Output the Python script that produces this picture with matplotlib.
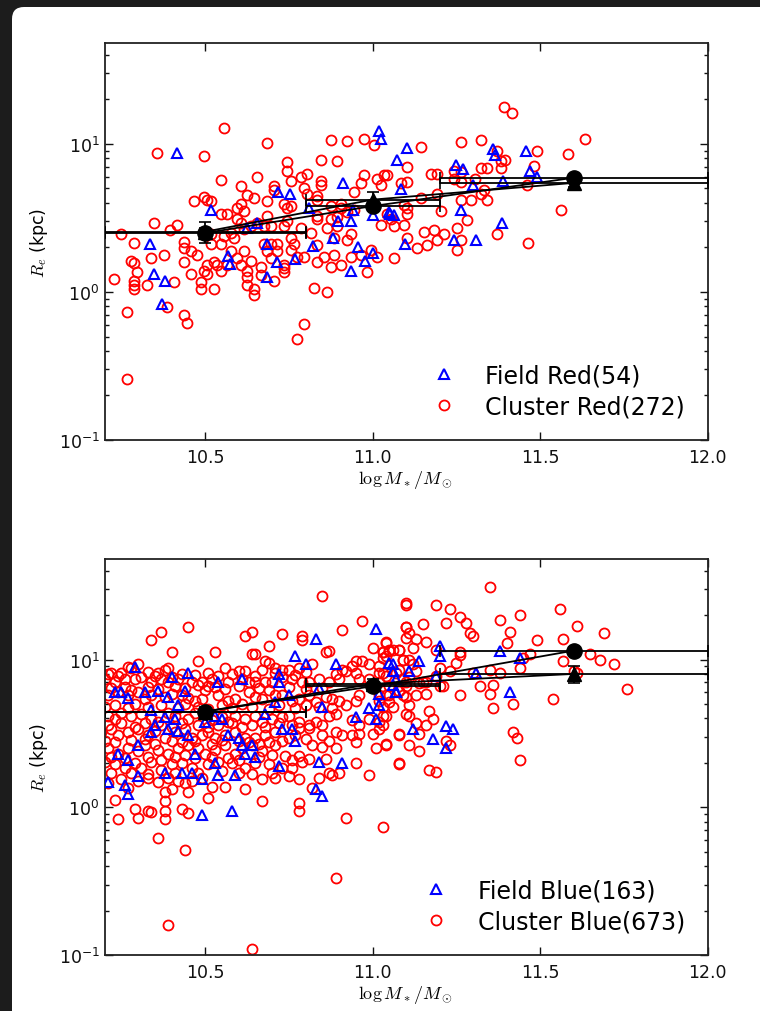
import matplotlib
matplotlib.use("Agg")
import matplotlib.pyplot as plt
from matplotlib.patches import FancyBboxPatch
from matplotlib.transforms import IdentityTransform
from matplotlib.ticker import FixedLocator, LogLocator, NullFormatter

plt.rcParams['mathtext.fontset'] = 'cm'
plt.rcParams['font.family'] = ['DejaVu Sans']

# ---------------- data: top panel (red galaxies) ----------------
cr_pts = [(10.556,12.8),(10.686,10.2),(10.357,8.7),(10.497,8.3),(10.875,10.6),(10.925,10.5),(10.975,10.8),(11.004,9.8),
(10.845,7.8),(10.895,7.7),(10.746,7.5),(10.746,6.6),(10.805,6.3),(10.786,6.0),(10.656,6.0),(10.547,5.7),(10.756,5.6),
(10.845,5.6),(10.845,5.3),(10.607,5.2),(10.706,5.2),(10.975,6.2),(11.014,5.8),(11.034,6.2),(11.044,6.2),(10.965,5.4),
(11.024,5.3),(11.084,5.4),(11.104,5.5),(10.706,4.9),(10.795,5.0),(10.805,4.6),(10.626,4.5),(10.646,4.3),(10.686,4.1),
(10.467,4.1),(10.497,4.4),(10.507,4.2),(10.517,4.1),(10.736,3.95),(10.756,3.8),(10.746,3.7),(10.607,3.95),(10.596,3.7),
(10.616,3.5),(10.547,3.35),(10.567,3.35),(10.686,3.25),(10.596,3.1),(10.835,4.45),(10.835,4.2),(10.875,3.8),(10.905,3.9),
(10.945,4.7),(10.905,3.7),(10.835,3.25),(10.835,3.1),(10.875,3.1),(10.895,2.8),(10.865,2.7),(10.786,2.7),(10.816,2.5),
(10.746,3.0),(10.736,2.8),(10.696,2.8),(10.676,2.8),(10.656,2.9),(10.636,2.8),(10.607,2.9),(10.616,2.65),(10.587,2.3),
(10.577,2.5),(10.557,2.4),(10.517,2.45),(10.417,2.85),(10.397,2.6),(10.348,2.9),(10.248,2.45),(10.288,2.15),(10.338,1.7),
(10.278,1.63),(10.288,1.57),(10.298,1.37),(10.228,1.23),(10.288,1.19),(10.288,1.11),(10.288,1.04),(10.328,1.11),
(10.378,1.77),(10.408,1.17),(10.438,2.18),(10.438,1.99),(10.438,1.6),(10.457,1.9),(10.457,1.32),(10.477,1.77),
(10.487,1.17),(10.487,1.04),(10.497,1.39),(10.507,1.52),(10.507,1.32),(10.517,2.12),(10.527,1.6),(10.527,1.04),
(10.537,1.53),(10.547,2.12),(10.547,1.38),(10.567,1.53),(10.577,1.9),(10.596,1.7),(10.607,1.53),(10.616,1.9),
(10.626,1.38),(10.626,1.26),(10.626,1.12),(10.636,1.63),(10.646,1.05),(10.646,0.96),(10.666,1.47),(10.666,1.3),
(10.676,2.12),(10.696,2.12),(10.696,1.7),(10.686,1.9),(10.706,1.18),(10.716,2.12),(10.716,1.9),(10.736,1.53),
(10.736,1.44),(10.736,1.37),(10.756,2.32),(10.756,1.93),(10.766,2.12),(10.776,1.72),(10.795,1.72),(10.825,1.06),
(10.835,2.07),(10.835,1.6),(10.855,1.72),(10.865,1.0),(10.875,1.47),(10.885,1.77),(10.885,2.3),(10.905,1.53),
(10.925,2.23),(10.935,2.45),(10.935,1.72),(10.965,1.77),(10.985,1.37),(10.995,1.93),(11.014,1.72),(11.024,2.85),
(11.064,1.7),(11.064,2.8),(11.094,2.85),(11.104,2.32),(11.044,3.35),(11.054,3.1),(11.094,3.87),(10.925,3.48),
(10.945,3.6),(10.895,3.2),(10.268,0.73),(10.387,0.79),(10.438,0.7),(10.447,0.62),(10.795,0.61),(10.776,0.48),
(10.268,0.26),(11.144,9.5),(11.263,10.3),(11.323,10.6),(11.373,9.0),(11.383,7.7),(11.396,7.8),(11.492,8.9),
(11.585,8.6),(11.634,10.8),(11.104,7.0),(11.174,6.3),(11.193,6.3),(11.243,6.6),(11.263,6.5),(11.323,6.9),(11.343,6.9),
(11.383,6.9),(11.482,7.1),(11.243,5.8),(11.263,5.5),(11.306,5.8),(11.462,5.3),(11.323,4.6),(11.333,4.9),(11.193,4.6),
(11.144,4.3),(11.263,4.2),(11.293,4.2),(11.343,4.2),(11.203,3.5),(11.104,3.7),(11.104,3.35),(11.283,3.06),(11.253,2.7),
(11.154,2.55),(11.184,2.6),(11.213,2.47),(11.193,2.23),(11.164,2.09),(11.134,1.97),(11.263,2.26),(11.253,1.93),
(11.373,2.47),(11.563,3.6),(11.463,2.13),(11.392,17.8),(11.415,16.1)]
cluster_red_mass = [p[0] for p in cr_pts]
cluster_red_re = [p[1] for p in cr_pts]

fr_pts = [(10.415,8.7),(10.517,3.6),(10.336,2.12),(10.348,1.32),(10.381,1.19),(10.371,0.83),(10.57,1.75),(10.575,1.55),
(10.624,2.7),(10.654,2.9),(10.684,2.12),(10.684,1.26),(10.714,1.6),(10.719,4.7),(10.754,4.6),(10.769,1.68),(10.811,3.7),
(10.823,2.04),(10.881,2.3),(10.898,3.0),(10.911,5.4),(10.935,3.0),(10.935,1.39),(10.943,3.6),(10.958,2.0),(10.978,1.63),
(11.0,3.3),(11.002,1.84),(11.02,12.2),(11.024,10.8),(11.052,3.35),(11.064,3.3),(11.072,7.8),(11.084,4.95),(11.097,2.12),
(11.102,9.4),(11.359,9.2),(11.366,8.4),(11.458,8.9),(11.249,7.2),(11.269,6.8),(11.47,6.6),(11.49,6.0),(11.301,5.3),
(11.39,5.6),(11.263,3.56),(11.386,2.9),(11.243,2.23),(11.309,2.23),(11.05,3.47)]
field_red_mass = [p[0] for p in fr_pts]
field_red_re = [p[1] for p in fr_pts]

# ---------------- data: bottom panel (blue galaxies) ----------------
cb_pts = [(10.85,26.9),(10.45,16.6),(10.37,15.5),(10.34,13.5),(10.40,11.2),(10.62,14.5),(10.64,15.5),(10.73,14.8),
(10.79,14.5),(10.79,13.5),(10.91,15.8),(10.97,18.2),(10.69,12.3),(10.64,11.0),(10.65,11.0),(10.53,11.2),(10.48,9.77),
(10.30,9.33),(10.27,8.91),(10.28,8.71),(10.22,8.13),(10.25,8.13),(10.38,8.51),(10.39,8.71),(10.36,8.13),(10.35,7.76),
(10.40,7.59),(10.51,8.13),(10.56,8.71),(10.60,8.32),(10.62,8.32),(10.67,8.51),(10.69,9.55),(10.68,9.77),(10.71,8.71),
(10.73,8.51),(10.75,8.51),(10.78,8.71),(10.82,9.33),(10.86,11.2),(10.87,11.5),(10.95,9.77),(10.94,9.12),(10.97,9.77),
(11.00,12.0),(10.99,9.33),(11.03,11.2),(11.05,11.5),(11.08,11.7),(11.09,10.0),(11.10,14.1),(11.10,16.6),(11.10,24.0),
(11.02,8.13),(11.04,12.9),
(10.20,7.41),(10.23,7.08),(10.26,7.41),(10.29,7.41),(10.31,7.59),(10.34,7.08),(10.37,7.41),(10.39,7.08),(10.42,7.41),
(10.46,7.08),(10.48,6.76),(10.49,7.08),(10.51,6.61),(10.52,7.41),(10.57,7.08),(10.61,7.41),(10.63,7.08),(10.65,7.08),
(10.68,7.08),(10.70,7.08),(10.73,7.59),(10.76,7.41),(10.79,7.08),(10.81,7.08),(10.84,7.41),(10.87,7.08),(10.90,7.41),
(10.91,8.51),(10.92,8.32),(10.95,8.13),(10.96,7.41),(10.99,7.41),(11.02,7.08),(11.05,6.61),(11.08,6.17),(11.09,7.41),
(11.10,7.08),
(10.21,5.75),(10.24,6.03),(10.27,5.75),(10.30,6.03),(10.32,5.37),(10.34,5.75),(10.38,5.62),(10.40,5.89),(10.43,5.75),
(10.45,5.5),(10.47,5.25),(10.49,5.37),(10.54,5.75),(10.57,5.25),(10.59,5.37),(10.63,6.03),(10.65,5.62),(10.67,5.37),
(10.71,5.75),(10.73,5.75),(10.76,5.25),(10.78,5.37),(10.81,5.75),(10.83,5.13),(10.86,5.62),(10.88,5.37),(10.90,5.25),
(10.92,4.9),(10.95,5.25),(10.96,5.75),(11.02,5.25),(11.04,5.75),(11.05,5.13),(11.09,5.75),(11.10,6.61),
(10.18,4.37),(10.21,4.17),(10.23,3.98),(10.25,4.37),(10.28,4.17),(10.31,4.27),(10.34,3.98),(10.36,3.8),(10.39,4.37),
(10.41,4.17),(10.45,3.98),(10.47,4.37),(10.52,3.89),(10.55,4.07),(10.57,3.8),(10.59,4.17),(10.62,3.98),(10.65,4.17),
(10.67,3.8),(10.70,3.98),(10.73,4.07),(10.75,4.17),(10.78,3.8),(10.81,3.47),(10.85,3.63),(10.87,4.17),(10.89,4.27),
(10.94,3.89),(10.96,3.63),(10.99,3.98),(11.02,3.8),(11.03,4.17),(11.06,4.79),
(10.19,3.24),(10.22,3.39),(10.24,3.09),(10.27,3.24),(10.30,3.39),(10.33,3.09),(10.35,3.31),(10.38,2.95),(10.41,3.24),
(10.44,3.39),(10.46,2.95),(10.49,3.09),(10.51,3.24),(10.53,2.95),(10.56,3.09),(10.59,3.24),(10.62,2.95),(10.65,2.95),
(10.68,3.09),(10.71,3.24),(10.75,2.95),(10.77,3.09),(10.78,3.47),(10.81,3.63),(10.85,3.09),(10.89,3.24),(10.91,3.09),
(10.94,3.09),(10.96,3.16),(11.00,3.16),(11.02,3.39),(11.08,3.16),
(10.18,2.63),(10.21,2.51),(10.24,2.29),(10.27,2.51),(10.30,2.4),(10.32,2.63),(10.36,2.45),(10.39,2.29),(10.42,2.51),
(10.45,2.63),(10.48,2.51),(10.50,2.29),(10.53,2.45),(10.56,2.63),(10.59,2.29),(10.61,2.51),(10.64,2.63),(10.67,2.4),
(10.69,2.75),(10.71,2.63),(10.74,2.24),(10.78,2.24),(10.82,2.63),(10.85,2.57),(10.89,2.51),(10.95,2.75),(11.01,2.51),
(11.04,2.63),
(10.20,2.04),(10.23,1.95),(10.26,1.86),(10.29,2.0),(10.31,1.86),(10.34,2.04),(10.37,1.78),(10.40,1.95),(10.43,2.0),
(10.46,1.86),(10.51,1.95),(10.54,2.04),(10.58,2.0),(10.62,1.86),(10.65,2.0),(10.69,1.95),(10.73,1.86),(10.76,1.86),
(10.79,2.04),(10.81,2.14),(10.86,2.14),(10.88,1.66),(10.90,1.70),(10.95,2.0),(11.08,2.0),(10.99,1.66),
(10.21,1.45),(10.25,1.55),(10.27,1.35),(10.30,1.51),(10.33,1.58),(10.36,1.48),(10.39,1.58),(10.42,1.51),(10.44,1.45),
(10.46,1.51),(10.49,1.58),(10.52,1.38),(10.56,1.38),(10.62,1.32),(10.67,1.55),(10.71,1.58),(10.75,1.62),(10.78,1.55),
(10.82,1.35),(10.87,1.70),(10.84,1.58),(10.45,1.26),(10.51,1.15),(10.38,1.26),(10.40,1.32),(10.23,1.12),
(10.29,0.98),(10.33,0.95),(10.34,0.93),(10.38,1.10),(10.38,0.95),(10.38,0.83),(10.43,0.98),(10.45,0.91),(10.30,0.85),
(10.24,0.83),(10.78,1.07),(10.78,0.95),(10.67,1.10),(10.92,0.85),(11.03,0.74),
(10.36,0.62),(10.44,0.51),(10.89,0.33),(10.39,0.16),(10.64,0.11),
(11.35,30.9),(11.10,23.4),(11.19,23.4),(11.23,21.9),(11.26,19.5),(11.28,17.8),(11.22,17.8),(11.15,17.4),(11.10,16.6),
(11.11,15.1),(11.13,13.8),(11.16,13.2),(11.29,15.1),(11.30,14.5),(11.38,18.6),(11.41,15.5),(11.40,12.9),(11.44,20.0),
(11.49,13.5),(11.56,21.9),(11.61,17.0),(11.57,13.8),(11.69,15.1),(11.65,11.0),(11.68,10.0),(11.72,9.33),(11.76,6.31),
(11.57,9.77),(11.60,8.32),(11.61,8.13),(11.54,5.37),(11.47,11.0),(11.45,10.2),(11.44,8.71),(11.26,10.7),(11.25,9.55),
(11.23,8.32),(11.20,8.71),(11.19,11.7),(11.12,12.0),(11.08,11.7),(11.04,13.2),(11.03,11.2),(11.05,11.7),(11.06,11.7),
(11.03,10.2),(11.04,10.5),(11.02,9.12),(11.09,10.0),(11.11,10.0),(11.12,9.33),(11.08,8.51),(11.07,8.13),(11.04,7.76),
(11.03,8.13),(11.11,7.59),(11.14,6.92),(11.15,7.08),(11.16,7.08),(11.16,5.89),(11.13,5.75),(11.10,5.62),(11.05,5.75),
(11.02,5.75),(11.03,4.79),(11.04,4.17),(11.10,4.27),(11.11,4.17),(11.11,4.9),(11.13,3.72),(11.16,3.63),(11.17,4.47),
(11.18,3.98),(11.14,3.16),(11.08,3.09),(11.03,3.63),(11.04,2.69),(11.11,2.63),(11.14,2.4),(11.08,1.95),(11.17,1.78),
(11.19,1.74),(11.22,2.82),(11.23,2.63),(11.26,5.75),(11.32,6.61),(11.35,8.51),(11.36,6.76),(11.35,5.89),(11.38,8.13),
(11.30,8.13),(11.36,4.68),(11.42,5.01),(11.42,3.24),(11.43,2.95),(11.44,2.09),(11.20,6.61),(11.21,6.61),(11.13,8.32),
(11.19,7.76),(11.26,11.2),
# overlapping circles in the crowded region (estimated)
(10.21,8.0),(10.24,7.8),(10.33,8.3),(10.43,8.0),(10.47,7.9),(10.54,7.8),(10.58,8.0),(10.65,7.7),(10.71,8.1),(10.77,7.9),
(10.80,8.2),(10.89,8.0),
(10.22,6.4),(10.26,6.5),(10.28,6.2),(10.33,6.5),(10.36,6.3),(10.41,6.6),(10.44,6.4),(10.50,6.2),(10.53,6.5),(10.56,6.3),
(10.60,6.6),(10.66,6.4),(10.69,6.2),(10.75,6.5),(10.80,6.3),(10.85,6.4),
(10.20,4.8),(10.23,4.9),(10.27,4.7),(10.29,5.0),(10.33,4.8),(10.37,4.9),(10.42,4.7),(10.44,5.0),(10.48,4.8),(10.51,4.6),
(10.55,4.9),(10.58,4.7),(10.61,5.0),(10.64,4.8),(10.69,4.6),(10.72,4.9),(10.77,4.7),(10.80,4.9),(10.84,4.8),(10.88,4.7),
(10.21,3.6),(10.25,3.7),(10.29,3.5),(10.32,3.7),(10.37,3.6),(10.40,3.5),(10.43,3.7),(10.48,3.6),(10.51,3.5),(10.54,3.6),
(10.58,3.7),(10.61,3.5),(10.64,3.6),(10.68,3.5),(10.72,3.7),(10.76,3.6),(10.83,3.8),
(10.20,2.8),(10.23,2.75),(10.28,2.85),(10.32,2.9),(10.35,2.7),(10.40,2.8),(10.43,2.75),(10.47,2.8),(10.52,2.7),(10.55,2.85),
(10.60,2.8),(10.63,2.75),(10.66,2.7),(10.73,2.8),(10.80,2.9),(10.87,2.8),
(10.22,2.2),(10.26,2.15),(10.33,2.2),(10.37,2.1),(10.41,2.2),(10.44,2.25),(10.47,2.15),(10.52,2.2),(10.57,2.15),(10.60,2.1),
(10.66,2.2),(10.70,2.25),(10.76,2.1),
(10.22,1.7),(10.28,1.72),(10.33,1.68),(10.41,1.7),(10.48,1.72),(10.55,1.75),(10.60,1.7),(10.64,1.68),(10.70,1.72)]
cluster_blue_mass = [p[0] for p in cb_pts]
cluster_blue_re = [p[1] for p in cb_pts]

fb_pts = [(10.29,8.91),(10.45,8.13),(10.54,7.08),(10.61,7.41),(10.72,7.94),(10.72,7.08),(10.77,10.5),(10.83,13.8),
(10.89,9.33),(11.01,16.2),(11.06,9.33),(11.06,8.32),(11.07,6.03),(11.02,4.9),(10.99,4.68),(11.01,3.98),(10.95,4.07),
(10.85,4.79),(10.84,6.46),(10.80,9.33),(10.23,6.03),(10.25,6.03),(10.27,5.5),(10.32,6.03),(10.36,6.17),(10.39,5.62),
(10.40,7.59),(10.44,6.17),(10.34,4.57),(10.38,4.07),(10.41,3.98),(10.42,4.9),(10.35,3.63),(10.34,3.24),(10.30,2.63),
(10.39,3.39),(10.42,3.31),(10.45,3.09),(10.50,3.8),(10.53,4.17),(10.55,3.98),(10.57,3.09),(10.61,2.63),(10.60,2.95),
(10.64,2.63),(10.71,5.13),(10.75,5.75),(10.73,3.39),(10.77,2.82),(10.76,3.39),(10.68,4.27),(10.62,2.29),(10.53,2.0),
(10.59,1.66),(10.54,1.66),(10.49,1.55),(10.43,1.70),(10.46,1.70),(10.38,1.70),(10.30,1.62),(10.27,2.09),(10.24,2.29),
(10.26,1.41),(10.27,1.23),(10.21,1.48),(10.58,0.95),(10.49,0.89),(10.72,1.91),(10.91,2.0),(10.84,2.04),(10.83,1.32),
(10.85,1.20),(10.47,2.29),(10.65,2.19),
(11.20,12.3),(11.20,10.5),(11.38,11.5),(11.44,10.2),(11.31,8.13),(11.19,7.76),(11.14,9.77),(11.11,8.32),(11.05,9.55),
(11.06,8.32),(11.07,7.41),(11.06,6.76),(11.07,6.03),(11.02,5.89),(11.41,6.03),(11.12,3.39),(11.18,2.88),(11.22,3.55),
(11.24,3.39),(11.22,2.51)]
field_blue_mass = [p[0] for p in fb_pts]
field_blue_re = [p[1] for p in fb_pts]

# binned medians
bin_mass = [10.5, 11.0, 11.6]
bin_halfwidth = [0.3, 0.2, 0.4]
top_cluster_med = [2.5, 3.8, 5.9]
top_cluster_err = [0.2, 0.3, 0.35]
top_field_med = [2.55, 4.2, 5.45]
top_field_err = [0.4, 0.55, 0.35]
bot_cluster_med = [4.45, 6.6, 11.5]
bot_cluster_err = [0.2, 0.3, 0.6]
bot_field_med = [4.45, 6.85, 8.0]
bot_field_err = [0.3, 0.5, 1.1]

labels_top = ['Field Red(54)', 'Cluster Red(272)']
labels_bot = ['Field Blue(163)', 'Cluster Blue(673)']
xticks = [10.5, 11.0, 11.5, 12.0]
ytick_vals = [0.1, 1, 10]
ytick_labels = [r'$\mathregular{10^{-1}}$', r'$\mathregular{10^{0}}$', r'$\mathregular{10^{1}}$']

# ---------------- figure ----------------
W, H = 760, 1012
fig = plt.figure(figsize=(W/100, H/100), dpi=100)
fig.patch.set_facecolor('#1c1c1c')
card = FancyBboxPatch((12, -30), 800, H - 8 + 30, boxstyle='round,pad=0,rounding_size=12',
                      transform=IdentityTransform(), facecolor='white', edgecolor='none', zorder=-10)
fig.patches.append(card)

ax_top = fig.add_axes([104.5/W, 1-441/H, 603/W, 397/H])
ax_bot = fig.add_axes([104.5/W, 1-956/H, 603/W, 396/H])

def style(ax, cm, cr, fm, fr, cmed, cerr, fmed, ferr, labels, leg_anchor):
    c, = ax.plot(cm, cr, linestyle='none', marker='o', ms=7.2, mfc='none', mec='red', mew=1.3, zorder=2)
    f, = ax.plot(fm, fr, linestyle='none', marker='^', ms=7.0, mfc='none', mec='blue', mew=1.5, zorder=3)
    ax.errorbar(bin_mass, fmed, xerr=bin_halfwidth, yerr=ferr, fmt='-^', color='k', ms=10, lw=1.3,
                elinewidth=1.3, capsize=4, capthick=1.2, zorder=4)
    ax.errorbar(bin_mass, cmed, xerr=bin_halfwidth, yerr=cerr, fmt='-o', color='k', ms=11, lw=1.3,
                elinewidth=1.3, capsize=4, capthick=1.2, zorder=5)
    ax.set_yscale('log')
    ax.set_xlim(10.2, 12.0)
    ax.set_ylim(0.1, 48)
    ax.set_xticks(xticks)
    ax.set_xticklabels(['10.5', '11.0', '11.5', '12.0'])
    ax.yaxis.set_major_locator(FixedLocator(ytick_vals))
    ax.set_yticklabels(ytick_labels)
    ax.yaxis.set_minor_locator(LogLocator(base=10, subs=range(2, 10)))
    ax.yaxis.set_minor_formatter(NullFormatter())
    ax.tick_params(which='both', direction='in', top=True, right=True, labelsize=12.5, colors='#111111')
    ax.tick_params(which='major', length=6, width=1)
    ax.tick_params(which='minor', length=3, width=1)
    ax.tick_params(axis='x', pad=6)
    for s in ax.spines.values():
        s.set_linewidth(1.3)
        s.set_color('#222222')
    ax.set_xlabel(r'$\log M_*/M_\odot$', fontsize=13, labelpad=1)
    ax.set_ylabel(r'$R_e$ (kpc)', fontsize=12.5, labelpad=6)
    leg = ax.legend([f, c], labels, loc='lower right', bbox_to_anchor=leg_anchor, frameon=False,
                    fontsize=17, handletextpad=0.75, labelspacing=0.3, markerscale=1.0, borderaxespad=0)
    return leg

style(ax_top, cluster_red_mass, cluster_red_re, field_red_mass, field_red_re,
      top_cluster_med, top_cluster_err, top_field_med, top_field_err, labels_top, (0.978, 0.03))
style(ax_bot, cluster_blue_mass, cluster_blue_re, field_blue_mass, field_blue_re,
      bot_cluster_med, bot_cluster_err, bot_field_med, bot_field_err, labels_bot, (0.978, 0.03))

fig.savefig('out.png', dpi=100, facecolor=fig.get_facecolor())
